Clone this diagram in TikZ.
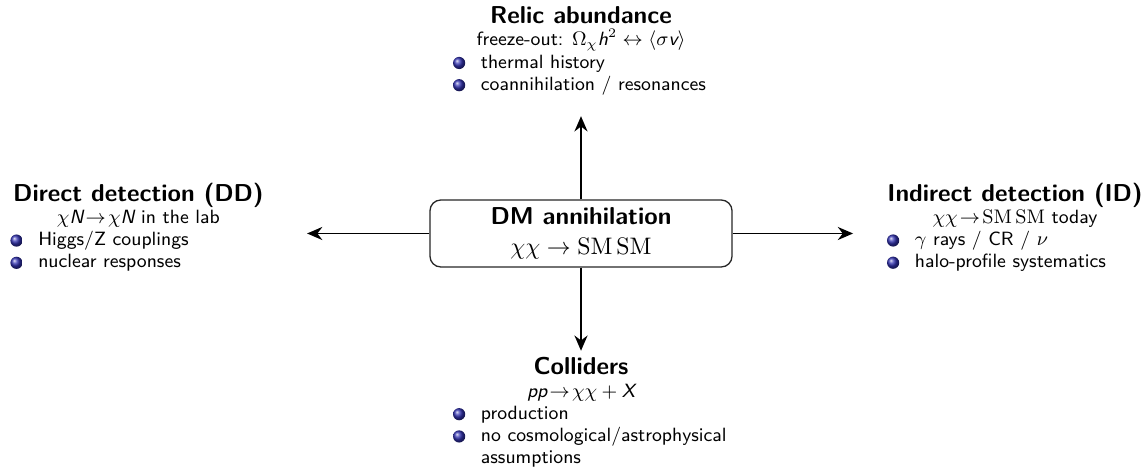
\documentclass[tikz,border=0pt]{standalone}
\usepackage{amsmath}
\usepackage{tikz}
\usetikzlibrary{arrows.meta, positioning}
\definecolor{structblue}{RGB}{51,51,178}
\setlength{\parindent}{0pt}
\newlength{\listshift}
\setlength{\listshift}{3.9pt}
\newcommand{\ballbul}{\tikz[baseline=-0.6ex]\shade[ball color=structblue] (0,0) circle (2.8pt);}
\newcommand{\bitem}[1]{\par\noindent\hspace*{\listshift}\makebox[12.8pt][l]{\ballbul}#1}
\newcommand{\bcont}{\break\hspace*{\dimexpr12.8pt+\listshift\relax}}
\newcommand{\sfv}[1]{\text{\sffamily\itshape #1}}
\newcommand{\topichead}[2]{{\centering{\fontsize{11.2}{13.5}\selectfont\bfseries #1\par}#2\par}}
\tikzset{
    core/.style={draw=black!85, line width=0.6pt, rounded corners=5pt, minimum width=4.87cm, minimum height=1.08cm, align=center, font=\sffamily\fontsize{11.4}{14}\selectfont},
    topic/.style={text width=4.4cm, inner sep=0pt, outer sep=0pt, align=flush left, font=\sffamily\fontsize{8.8}{10.2}\selectfont},
    flow/.style={-{Stealth[length=7pt, width=6pt]}, thick}
}

\begin{document}
\begin{tikzpicture}
    \useasboundingbox (-9.366,-3.764) rectangle (9.140,3.764);
    \node (dm) [core] at (0,0) {{\fontsize{11.2}{14}\selectfont\bfseries DM annihilation}\\ $\chi\chi \to \mathrm{SM}\,\mathrm{SM}$};
    \node (relic) [topic, above=1.68cm of dm] {\topichead{Relic abundance}{freeze-out: $\Omega_\chi \sfv{h}^2 \leftrightarrow \langle\sigma \sfv{v}\rangle$}\bitem{thermal history}\bitem{coannihilation / resonances}};
    \node (dd) [topic, left=2.49cm of dm, yshift=0.1cm] {\topichead{Direct detection (DD)}{$\chi \sfv{N}\!\to\!\chi \sfv{N}$ in the lab}\bitem{Higgs/Z couplings}\bitem{nuclear responses}};
    \node (id) [topic, right=2.35cm of dm, yshift=0.1cm] {\topichead{Indirect detection (ID)}{$\chi\chi\!\to\!\mathrm{SM}\,\mathrm{SM}$ today}\bitem{$\gamma$ rays / CR / $\nu$}\bitem{halo-profile systematics}};
    \node (col) [topic, below=1.45cm of dm] {\topichead{Colliders}{$\sfv{pp}\!\to\!\chi\chi+\sfv{X}$}\bitem{production}\bitem{\mbox{no cosmological/astrophysical}\bcont assumptions}};

    \draw [flow, shorten >=0.34cm] (dm.north) -- (dm.north |- relic.south);
    \draw [flow, shorten >=0.11cm] (dm.south) -- (dm.south |- col.north);
    \draw [flow, shorten >=0.52cm] (dm.west) -- (dm.west -| dd.east);
    \draw [flow, shorten >=0.41cm] (dm.east) -- (dm.east -| id.west);
\end{tikzpicture}
\end{document}
